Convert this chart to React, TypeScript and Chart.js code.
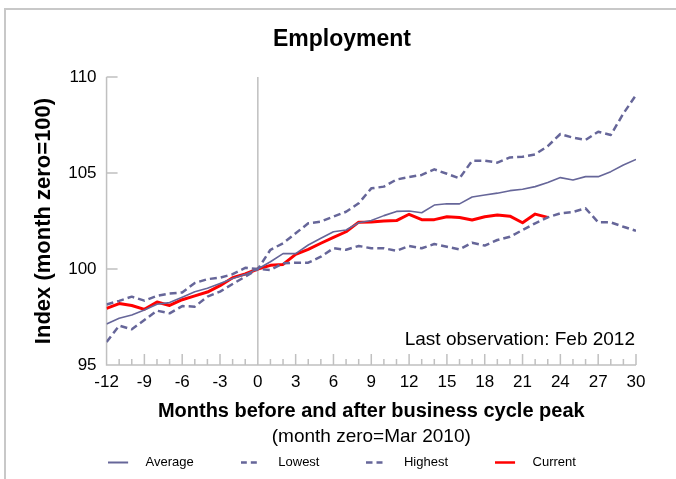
import { useEffect, useRef } from 'react';
import { Chart, registerables } from 'chart.js';

Chart.register(...registerables);

const FONT = '"Liberation Sans", Arial, Helvetica, sans-serif';

const months = [-12, -11, -10, -9, -8, -7, -6, -5, -4, -3, -2, -1, 0, 1, 2, 3, 4, 5, 6, 7, 8, 9, 10, 11, 12, 13, 14, 15, 16, 17, 18, 19, 20, 21, 22, 23, 24, 25, 26, 27, 28, 29, 30];

const averageValues = [97.14, 97.43, 97.6, 97.86, 98.16, 98.25, 98.53, 98.82, 99.0, 99.25, 99.5, 99.72, 100, 100.38, 100.8, 100.8, 101.25, 101.6, 101.94, 102.03, 102.41, 102.53, 102.78, 103.0, 103.02, 102.93, 103.33, 103.4, 103.39, 103.75, 103.85, 103.95, 104.08, 104.15, 104.29, 104.5, 104.76, 104.64, 104.81, 104.81, 105.07, 105.42, 105.71];

const lowestValues = [98.15, 98.34, 98.56, 98.35, 98.6, 98.72, 98.78, 99.27, 99.47, 99.55, 99.73, 100.06, 100, 99.95, 100.3, 100.33, 100.33, 100.64, 101.08, 101.0, 101.2, 101.08, 101.08, 100.95, 101.2, 101.08, 101.3, 101.16, 101.02, 101.37, 101.22, 101.51, 101.68, 102.03, 102.38, 102.69, 102.9, 102.97, 103.16, 102.43, 102.43, 102.2, 101.99];

const highestValues = [96.2, 97.05, 96.86, 97.34, 97.83, 97.69, 98.07, 98.04, 98.56, 98.82, 99.22, 99.6, 100, 101.0, 101.34, 101.86, 102.38, 102.47, 102.73, 102.98, 103.42, 104.2, 104.29, 104.66, 104.79, 104.9, 105.19, 104.96, 104.72, 105.64, 105.64, 105.54, 105.81, 105.85, 105.97, 106.4, 107.03, 106.84, 106.72, 107.15, 106.98, 108.1, 109.06];

const currentValues = [97.95, 98.2, 98.1, 97.9, 98.28, 98.1, 98.4, 98.6, 98.8, 99.13, 99.55, 99.74, 100, 100.19, 100.24, 100.76, 101.02, 101.34, 101.65, 101.94, 102.44, 102.45, 102.5, 102.52, 102.85, 102.57, 102.57, 102.72, 102.68, 102.55, 102.72, 102.81, 102.75, 102.41, 102.86, 102.69];

const yTickValues = [95, 100, 105, 110];

const seriesNames = ['Average', 'Lowest', 'Highest', 'Current'];

const BLUE = '#666699';
const RED = '#ff0000';
const AXIS = '#c0c0c0';

const LEGEND_FONT = 13;
const LEGEND_IMG_W = 31;

function makeLegendImage(color: string, width: number, dash: number[], len: number) {
  const c = document.createElement('canvas');
  c.width = LEGEND_IMG_W;
  c.height = LEGEND_FONT;
  const g = c.getContext('2d')!;
  g.strokeStyle = color;
  g.lineWidth = width;
  g.setLineDash(dash);
  g.beginPath();
  g.moveTo(0, LEGEND_FONT / 2);
  g.lineTo(len, LEGEND_FONT / 2);
  g.stroke();
  return c;
}

const decorPlugin = {
  id: 'decor',
  beforeDraw(chart: any) {
    const ctx = chart.ctx;
    ctx.save();
    ctx.strokeStyle = '#c8c8c8';
    ctx.lineWidth = 2;
    ctx.beginPath();
    ctx.moveTo(5, chart.height);
    ctx.lineTo(5, 9);
    ctx.lineTo(chart.width, 9);
    ctx.stroke();
    ctx.restore();
  },
  beforeDatasetsDraw(chart: any) {
    const { ctx, chartArea: a, scales } = chart;
    const xs = scales.x;
    const ys = scales.y;
    ctx.save();
    ctx.strokeStyle = AXIS;
    ctx.lineWidth = 1.5;
    ctx.beginPath();
    ctx.moveTo(a.left, a.top);
    ctx.lineTo(a.left, a.bottom);
    ctx.lineTo(a.right, a.bottom);
    const x0 = xs.getPixelForValue(0);
    ctx.moveTo(x0, a.top);
    ctx.lineTo(x0, a.bottom);
    months.forEach((m) => {
      const px = xs.getPixelForValue(m);
      const len = m % 3 === 0 ? 11 : 6;
      ctx.moveTo(px, a.bottom);
      ctx.lineTo(px, a.bottom - len);
    });
    yTickValues.forEach((v) => {
      if (v === ys.min) return;
      const py = ys.getPixelForValue(v);
      ctx.moveTo(a.left, py);
      ctx.lineTo(a.left + 11, py);
    });
    ctx.stroke();
    ctx.restore();
  },
  afterDraw(chart: any) {
    const { ctx, chartArea: a } = chart;
    ctx.save();
    ctx.fillStyle = '#000';
    ctx.font = `19px ${FONT}`;
    ctx.textBaseline = 'middle';
    ctx.textAlign = 'right';
    ctx.fillText('Last observation: Feb 2012', a.right - 1, a.bottom - 25);
    ctx.textAlign = 'center';
    ctx.fillText('(month zero=Mar 2010)', (a.left + a.right) / 2, 437);
    ctx.restore();
  },
};

export default function App() {
  const ref = useRef<HTMLCanvasElement | null>(null);

  useEffect(() => {
    if (!ref.current) return;
    const legendImages = [
      makeLegendImage(BLUE, 2, [], 20),
      makeLegendImage(BLUE, 2.5, [6, 4], 16),
      makeLegendImage(BLUE, 2.5, [6, 4], 16),
      makeLegendImage(RED, 2.5, [], 20),
    ];
    const chart = new Chart(ref.current, {
      type: 'line',
      data: {
        labels: months,
        datasets: [
          { label: seriesNames[0], data: averageValues, borderColor: BLUE, borderWidth: 1.6 },
          { label: seriesNames[1], data: lowestValues, borderColor: BLUE, borderWidth: 2.5, borderDash: [7, 4] },
          { label: seriesNames[2], data: highestValues, borderColor: BLUE, borderWidth: 2.5, borderDash: [7, 4] },
          { label: seriesNames[3], data: currentValues, borderColor: RED, borderWidth: 3 },
        ],
      },
      options: {
        responsive: false,
        animation: false,
        layout: { padding: { left: 8, right: 0, top: 0, bottom: 0 } },
        elements: {
          point: { radius: 0, hoverRadius: 0 },
          line: { tension: 0, fill: false, borderJoinStyle: 'round' },
        },
        scales: {
          x: {
            type: 'linear',
            min: -12,
            max: 30,
            grid: { display: false, drawTicks: false },
            border: { display: false },
            ticks: {
              stepSize: 3,
              padding: 7,
              color: '#000',
              font: { size: 17, family: FONT },
              maxRotation: 0,
              autoSkip: false,
            },
            title: {
              display: true,
              text: 'Months before and after business cycle peak',
              color: '#000',
              font: { size: 20, weight: 'bold', family: FONT },
              padding: { top: -0.4, bottom: -14 },
            },
          },
          y: {
            min: 95,
            max: 110,
            grid: { display: false, drawTicks: false },
            border: { display: false },
            ticks: {
              stepSize: 5,
              padding: 10,
              color: '#000',
              font: { size: 17, family: FONT },
            },
            title: {
              display: true,
              text: 'Index (month zero=100)',
              color: '#000',
              font: { size: 22, weight: 'bold', family: FONT },
              padding: { top: 22.8, bottom: 1 },
            },
          },
          spacer: {
            type: 'linear',
            position: 'right',
            display: true,
            min: 0,
            max: 1,
            grid: { display: false, drawTicks: false },
            border: { display: false },
            ticks: { display: false },
            afterFit: (s: any) => {
              s.width = 40;
            },
          },
        },
        plugins: {
          tooltip: { enabled: false },
          title: {
            display: true,
            text: 'Employment',
            color: '#000',
            font: { size: 23, weight: 'bold', family: FONT },
            padding: { top: 26, bottom: 23.4 },
          },
          legend: {
            position: 'bottom',
            labels: {
              usePointStyle: true,
              pointStyleWidth: LEGEND_IMG_W,
              boxHeight: LEGEND_FONT,
              padding: 47,
              color: '#000',
              font: { size: LEGEND_FONT, family: FONT },
              generateLabels: (c: any) => {
                const items = (Chart.defaults.plugins.legend.labels as any).generateLabels(c);
                return items.map((it: any, i: number) => ({ ...it, pointStyle: legendImages[i] }));
              },
            },
          },
        },
      } as any,
      plugins: [decorPlugin],
    });
    return () => chart.destroy();
  }, []);

  return (
    <div style={{ position: 'fixed', left: 0, top: 0, width: 676, height: 479, background: '#fff' }}>
      <canvas ref={ref} width={676} height={479} style={{ display: 'block' }} />
    </div>
  );
}
